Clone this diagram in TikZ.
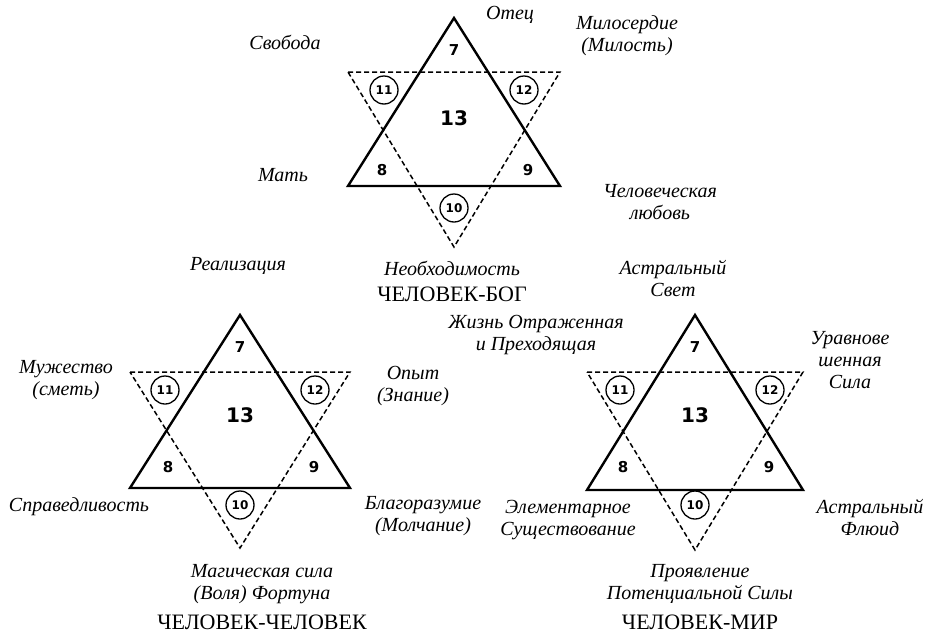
\documentclass[tikz,border=0pt]{standalone}
\usepackage{fontspec}
\setmainfont{Liberation Serif}
\newfontfamily\numfont{DejaVu Sans}
\begin{document}
\begin{tikzpicture}[x=1pt,y=-1pt,
  up/.style={line width=2.4pt,line join=miter},
  dn/.style={line width=1.5pt,dash pattern=on 5pt off 3pt},
  lbl/.style={font=\itshape\fontsize{20}{22}\selectfont,align=center,inner sep=1pt},
  ttl/.style={font=\fontsize{22}{24}\selectfont,inner sep=1pt},
  num/.style={font=\numfont\bfseries\fontsize{15}{17}\selectfont,inner sep=1pt},
  cnum/.style={num,draw,circle,line width=1.3pt,minimum size=28pt,font=\numfont\bfseries\fontsize{12}{14}\selectfont}]
\useasboundingbox (0,0) rectangle (946,635);
\fill[white] (0,0) rectangle (946,635);
\tikzset{pics/hexa/.style n args={6}{code={
  \draw[up] (0,0) -- (-#1,#2) -- (#1,#2) -- cycle;
  \draw[dn] (-#1,#3) -- (#1,#3) -- (0,#4) -- cycle;
  \node[num] at (0,32) {7};
  \node[cnum] at (-#5,#6) {11};
  \node[cnum] at (#5,#6) {12};
  \node[num,font=\numfont\bfseries\fontsize{20}{22}\selectfont] at (0,100) {13};
  \node[num] at (-72,152) {8};
  \node[num] at (74,152) {9};
  \node[cnum] at (0,190) {10};
}}}
\pic at (454,18) {hexa={106}{168}{54}{229}{70}{72}};
\pic at (240,315) {hexa={110}{173}{57}{233}{75}{75}};
\pic at (695,315) {hexa={108}{175}{57}{235}{75}{75}};
\node[lbl] (a1) at (285,42) {Свобода};
\node[lbl] (a2) at (510,15) {Отец};
\node[lbl] (a3) at (627,36) {Милосердие\\(Милость)};
\node[lbl] (a4) at (283,175) {Мать};
\node[lbl] (a5) at (660,202) {Человеческая\\любовь};
\node[lbl] (a6) at (452,268) {Необходимость};
\node[ttl] (t1) at (452,294) {ЧЕЛОВЕК-БОГ};
\node[lbl] (a7) at (238,266) {Реализация};
\node[lbl] (b1) at (66,380) {Мужество\\(сметь)};
\node[lbl] (b2) at (413,386) {Опыт\\(Знание)};
\node[lbl] (b3) at (79,507) {Справедливость};
\node[lbl] (b4) at (423,516) {Благоразумие\\(Молчание)};
\node[lbl] (b5) at (262,584) {Магическая сила\\(Воля) Фортуна};
\node[ttl] (t2) at (262,622) {ЧЕЛОВЕК-ЧЕЛОВЕК};
\node[lbl] (c1) at (673,278) {Астральный\\Свет};
\node[lbl] (c2) at (536,335) {Жизнь Отраженная\\и Преходящая};
\node[lbl] (c3) at (850,360) {Уравнове\\шенная\\Сила};
\node[lbl] (c4) at (568,520) {Элементарное\\Существование};
\node[lbl] (c5) at (870,517) {Астральный\\Флюид};
\node[lbl] (c6) at (700,584) {Проявление\\Потенциальной Силы};
\node[ttl] (t3) at (700,622) {ЧЕЛОВЕК-МИР};
\end{tikzpicture}
\end{document}
